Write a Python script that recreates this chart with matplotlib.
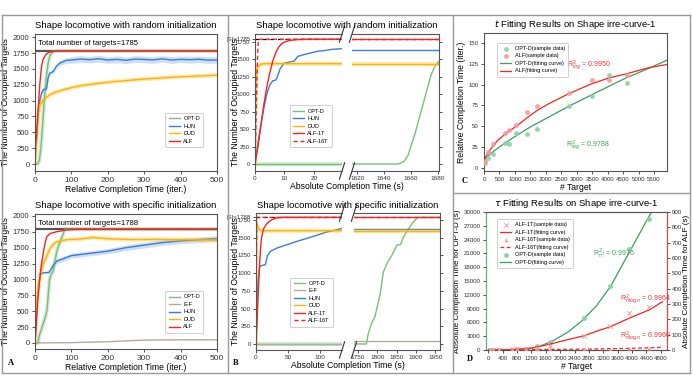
import matplotlib
matplotlib.use("Agg")
import matplotlib.pyplot as plt
from matplotlib.lines import Line2D

plt.rcParams.update({"font.family": ["Liberation Sans", "DejaVu Sans"], "font.size": 5.5,
                     "axes.edgecolor": "#444444", "axes.linewidth": 0.8,
                     "xtick.major.size": 2.5, "ytick.major.size": 2.5,
                     "xtick.major.width": 0.6, "ytick.major.width": 0.6,
                     "xtick.labelsize": 5, "ytick.labelsize": 5})

# ---------------- colours ----------------
C_OPT = "#7cbd7c"
C_HUN = "#3b7dd8"
C_DUD = "#ffb400"
C_ALF = "#ff2020"
C_EF = "#b5aa9c"

# ---------------- A (top): random initialization, relative time ----------------
a1_optd_x = [0, 8, 12, 15, 18, 22.5, 27, 31.5, 36, 40.5, 45, 55, 70, 500]
a1_optd_y = [0, 5, 60, 200, 380, 750, 1117, 1380, 1590, 1700, 1750, 1780, 1785, 1785]
a1_alf_x = [0, 3, 9, 13.5, 18, 22.5, 31.5, 40.5, 50, 65, 500]
a1_alf_y = [250, 380, 906, 1275, 1539, 1655, 1739, 1765, 1778, 1785, 1785]
a1_hun_x = [0, 4.5, 9, 13.5, 18, 22.5, 31.5, 36, 40.5, 49.5, 58.5, 67.5, 85.5, 100, 125, 150, 175, 200,
            225, 250, 275, 300, 325, 350, 375, 400, 425, 450, 475, 500]
a1_hun_y = [0, 380, 800, 1012, 1117, 1170, 1185, 1354, 1433, 1455, 1540, 1590, 1633, 1640, 1655, 1645,
            1660, 1640, 1650, 1635, 1655, 1648, 1642, 1658, 1640, 1650, 1645, 1652, 1638, 1640]
a1_hun_sd = [0, 10, 15, 20, 20, 20, 20, 25, 30, 30, 35, 40, 45, 50, 55, 50, 55, 50, 55, 50, 55, 50,
             55, 50, 55, 50, 55, 50, 55, 50]
a1_dud_x = [0, 5, 9, 13.5, 22.5, 40.5, 60, 85, 100, 130, 200, 300, 400, 500]
a1_dud_y = [0, 500, 800, 933, 1012, 1090, 1140, 1180, 1205, 1240, 1290, 1340, 1375, 1400]
a1_total = 1785

# ---------------- A (bottom): specific initialization, relative time ----------------
a2_optd_x = [0, 8, 12, 20, 28, 33, 37, 40, 45, 50, 55, 60, 68, 75, 82, 500]
a2_optd_y = [0, 0, 120, 260, 400, 520, 800, 1000, 1090, 1130, 1300, 1450, 1580, 1680, 1788, 1788]
a2_ef_x = [0, 100, 200, 300, 400, 500]
a2_ef_y = [0, 5, 20, 45, 50, 50]
a2_hun_x = [0, 5, 10, 15, 22, 38, 45, 52, 60, 75, 100, 150, 200, 250, 300, 350, 400, 450, 500]
a2_hun_y = [0, 550, 900, 1080, 1105, 1110, 1170, 1240, 1290, 1320, 1375, 1410, 1445, 1500, 1540, 1580,
            1606, 1625, 1643]
a2_hun_sd = [0, 10, 15, 15, 15, 15, 25, 35, 40, 40, 40, 40, 40, 45, 45, 45, 45, 45, 45]
a2_dud_x = [0, 4, 10, 15, 23, 32, 41, 50, 59, 87, 120, 160, 200, 270, 350, 420, 500]
a2_dud_y = [0, 600, 950, 1100, 1250, 1360, 1485, 1550, 1590, 1627, 1635, 1660, 1640, 1628, 1630, 1625, 1617]
a2_alf_x = [0, 3, 8, 14, 18, 23, 28, 32, 41, 59, 87, 114, 500]
a2_alf_y = [0, 250, 700, 1066, 1250, 1433, 1580, 1670, 1722, 1750, 1780, 1788, 1788]
a2_total = 1788

# ---------------- B (top): random initialization, absolute time ----------------
b1_optd_x = [0, 1650, 1652, 1655, 1658, 1660, 1663, 1666, 1669, 1672, 1675, 1678, 1681]
b1_optd_y = [0, 0, 10, 40, 130, 253, 430, 640, 850, 1060, 1270, 1400, 1470]
b1_hun_x = [0, 1, 2, 3, 4, 5, 6, 7, 7.5, 8.5, 9.8, 12, 13.3, 14.5, 17, 19, 21.4, 24, 26, 29.5]
b1_hun_y = [0, 300, 560, 800, 1000, 1130, 1190, 1200, 1240, 1360, 1440, 1462, 1472, 1540, 1570, 1590,
            1615, 1625, 1640, 1650]
b1_hun_end = 1630
b1_dud_x = [0, 0.1, 0.3, 0.6, 1, 1.7, 3, 29.5]
b1_dud_y = [0, 600, 1100, 1353, 1390, 1424, 1435, 1435]
b1_alf1_x = [0, 1, 2, 3, 4, 5, 6, 7, 8, 9, 10, 12, 14, 17, 29.5]
b1_alf1_y = [0, 250, 550, 850, 1100, 1300, 1470, 1590, 1670, 1720, 1745, 1770, 1778, 1785, 1785]
b1_alf16_x = [0, 0.3, 0.7, 1.0, 1.3, 29.5]
b1_alf16_y = [0, 530, 1300, 1700, 1785, 1785]

# ---------------- B (bottom): specific initialization, absolute time ----------------
b2_optd_x = [0, 1772, 1776, 1785, 1794, 1807, 1816, 1825, 1838, 1851, 1860, 1868, 1881, 1890, 1899,
             1905, 1962]
b2_optd_y = [0, 0, 127, 291, 385, 690, 1020, 1137, 1255, 1396, 1405, 1513, 1631, 1701, 1758, 1788, 1788]
b2_ef_left = 0
b2_ef_right = 47
b2_hun_x = [0, 1.6, 3.1, 5.7, 9.3, 14.5, 18, 22.3, 32.6, 63.7, 89.6, 110, 134]
b2_hun_y = [0, 550, 880, 1090, 1110, 1120, 1250, 1307, 1355, 1449, 1520, 1581, 1630]
b2_hun_end = 1625
b2_dud_x = [0, 0.3, 0.6, 1, 2, 3, 5, 8, 134]
b2_dud_y = [0, 1000, 1550, 1650, 1680, 1660, 1620, 1600, 1600]
b2_alf1_x = [0, 2, 4, 6, 8, 10, 12, 17, 22, 27, 32, 40, 134]
b2_alf1_y = [0, 400, 832, 1200, 1450, 1560, 1631, 1700, 1740, 1765, 1780, 1788, 1788]
b2_alf16_x = [0, 0.3, 0.8, 1.2, 1.6, 134]
b2_alf16_y = [0, 600, 1350, 1700, 1788, 1788]

# ---------------- C: t fitting ----------------
c_targets = [43, 129, 291, 668, 808, 1046, 1390, 1725, 2738, 3493, 4042, 4625]
c_optd = [6, 12, 17, 30, 29, 42, 41, 47, 74, 86, 111, 102]
c_alf = [8, 19, 29, 42, 45, 51, 67, 74, 90, 105, 106, 111]
c_fit_optd_x = [0, 100, 250, 500, 1000, 1500, 2000, 2750, 3500, 4100, 4600, 5300, 5900]
c_fit_optd_y = [8, 13, 18, 25, 37.5, 49, 59, 74, 88, 99, 108, 119, 129]
c_fit_alf_x = [0, 130, 290, 450, 670, 810, 1050, 1390, 1725, 2100, 2740, 3490, 4040, 4620, 5300, 5900]
c_fit_alf_y = [9, 18, 26, 33, 40, 44, 50, 60, 69, 77, 89, 101, 108, 113, 120, 124]

# ---------------- D: tau fitting ----------------
d_targets = [43, 129, 291, 668, 808, 1046, 1366, 1708, 2658, 3388, 3923, 4477]
d_optd = [5, 10, 30, 100, 150, 290, 800, 1670, 6960, 13900, 21970, 28560]
d_alf1 = [0.5, 1, 2, 4, 5, 8, 15, 25, 89, 159, 241, 278]
d_alf16 = [0.5, 0.8, 1, 1.5, 2, 2.5, 3, 4, 6, 8, 10, 14]
d_fit_optd_x = [1000, 1400, 1800, 2200, 2600, 3000, 3400, 3800, 4200, 4536]
d_fit_optd_y = [100, 700, 2000, 3800, 6300, 9500, 13800, 19500, 25200, 30000]
d_fit_alf1_x = [0, 400, 800, 1204, 1667, 2130, 2667, 3056, 3398, 3935, 4491, 4843]
d_fit_alf1_y = [0, 1, 4, 13, 35, 63, 93, 126, 152, 209, 263, 315]
d_fit_alf16_x = [0, 1000, 2000, 3000, 4000, 4850]
d_fit_alf16_y = [0, 2, 4, 7, 11, 17]

# ******************************************************************************

W, H = 693, 389
fg = plt.figure(figsize=(W / 100, H / 100), dpi=100)


def rect(x0, y0, x1, y1):
    return [x0 / W, 1 - y1 / H, (x1 - x0) / W, (y1 - y0) / H]


def fline(x0, y0, x1, y1):
    fg.add_artist(Line2D([x0 / W, x1 / W], [1 - y0 / H, 1 - y1 / H], color="#9a9a9a", lw=1.0))


def ftext(x, y, s, **kw):
    fg.text(x / W, 1 - y / H, s, **kw)


def style(ax):
    for s in ax.spines.values():
        s.set_color("#555555")
    ax.tick_params(colors="#333333", pad=1.5)


LEG = dict(fontsize=4.0, frameon=True, fancybox=True, handlelength=2.0, handletextpad=0.6,
           labelspacing=0.45, borderpad=0.6, borderaxespad=0)


def legend(ax, loc, **kw):
    lg = ax.legend(loc=loc, **LEG, **kw)
    lg.get_frame().set_edgecolor("#bbbbbb")
    lg.get_frame().set_linewidth(0.6)
    return lg


# Panel frames ...
fline(2, 15, 690, 15)
fline(2, 373, 690, 373)
fline(2, 15, 2, 373)
fline(228, 15, 228, 373)
fline(453, 15, 453, 373)
fline(690, 15, 690, 373)
fline(453, 193, 690, 193)

# ---------------- A panels ----------------
for i, (rc, title, total) in enumerate([(rect(35, 34, 217, 171), "Shape locomotive with random initialization", a1_total),
                                         (rect(35, 214, 217, 349), "Shape locomotive with specific initialization", a2_total)]):
    ax = fg.add_axes(rc)
    style(ax)
    ax.axhline(total, color="#555555", lw=1.6, zorder=1)
    if i == 0:
        ax.plot(a1_optd_x, a1_optd_y, color=C_OPT, lw=3, alpha=0.3)
        ax.plot(a1_optd_x, a1_optd_y, color=C_OPT, lw=1, label="OPT-D")
        lo = [y - s for y, s in zip(a1_hun_y, a1_hun_sd)]
        hi = [y + s for y, s in zip(a1_hun_y, a1_hun_sd)]
        ax.fill_between(a1_hun_x, lo, hi, color=C_HUN, alpha=0.25, lw=0)
        ax.plot(a1_hun_x, a1_hun_y, color=C_HUN, lw=1, label="HUN")
        ax.plot(a1_dud_x, a1_dud_y, color=C_DUD, lw=3, alpha=0.3)
        ax.plot(a1_dud_x, a1_dud_y, color=C_DUD, lw=1, label="DUD")
        ax.plot(a1_alf_x, a1_alf_y, color=C_ALF, lw=1, label="ALF")
        ax.set_ylim(-110, 2050)
        legend(ax, "lower right", bbox_to_anchor=(0.925, 0.175))
    else:
        ax.plot(a2_optd_x, a2_optd_y, color=C_OPT, lw=3, alpha=0.3)
        ax.plot(a2_optd_x, a2_optd_y, color=C_OPT, lw=1, label="OPT-D")
        ax.plot(a2_ef_x, a2_ef_y, color=C_EF, lw=1, label="E-F")
        lo = [y - s for y, s in zip(a2_hun_y, a2_hun_sd)]
        hi = [y + s for y, s in zip(a2_hun_y, a2_hun_sd)]
        ax.fill_between(a2_hun_x, lo, hi, color=C_HUN, alpha=0.25, lw=0)
        ax.plot(a2_hun_x, a2_hun_y, color=C_HUN, lw=1, label="HUN")
        ax.plot(a2_dud_x, a2_dud_y, color=C_DUD, lw=3, alpha=0.3)
        ax.plot(a2_dud_x, a2_dud_y, color=C_DUD, lw=1, label="DUD")
        ax.plot(a2_alf_x, a2_alf_y, color=C_ALF, lw=1, label="ALF")
        ax.set_ylim(-95, 2030)
        legend(ax, "lower right", bbox_to_anchor=(0.925, 0.12))
    ax.text(0.015, 0.93, "Total number of targets={:d}".format(total), transform=ax.transAxes,
            fontsize=5.5, va="center")
    ax.set_xlim(0, 500)
    ax.set_yticks(range(0, 2001, 250))
    ax.set_xticks(range(0, 501, 100))
    ax.tick_params(axis="x", labelsize=6)
    ax.tick_params(axis="y", labelsize=5.5)
    ax.set_title(title, fontsize=6.8, pad=4)
    ax.set_ylabel("The Number of Occupied Targets", fontsize=6.2, labelpad=2)
    ax.set_xlabel("Relative Completion Time (iter.)", fontsize=6.2, labelpad=1)

# ---------------- B panels (broken x axis) ----------------
b_specs = [
    (rect(255, 34, 342, 171), rect(352, 34, 439, 171), (0, 29.5), (1616, 1681), (-100, 1860), 1785,
     [0, 10, 20], [1620, 1640, 1660, 1680], "Shape locomotive with random initialization", 26, 186, 102,
     (0.885, 0.175)),
    (rect(256, 213, 342, 350), rect(354, 213, 440, 350), (0, 134), (1740, 1962), (-85, 1850), 1788,
     [0, 50, 100], [1750, 1800, 1850, 1900, 1950], "Shape locomotive with specific initialization", 205, 366,
     281, (0.895, 0.17)),
]
for j, (rl, rr, xl, xr, yl, total, xtl, xtr, title, ty, xy, ly, lpos) in enumerate(b_specs):
    axl = fg.add_axes(rl)
    axr = fg.add_axes(rr)
    for ax in (axl, axr):
        style(ax)
        ax.set_ylim(*yl)
        ax.axhline(total, color="black", lw=0.9, ls=(0, (3, 3)), zorder=1)
        ax.tick_params(axis="x", labelsize=4.6, pad=1)
    if j == 0:
        axl.plot([0, 29.5], [0, 0], color=C_OPT, lw=3, alpha=0.3)
        axl.plot([0, 29.5], [0, 0], color=C_OPT, lw=1, label="OPT-D")
        axl.plot(b1_hun_x, b1_hun_y, color=C_HUN, lw=1, label="HUN")
        axl.plot(b1_dud_x, b1_dud_y, color=C_DUD, lw=3, alpha=0.3)
        axl.plot(b1_dud_x, b1_dud_y, color=C_DUD, lw=1, label="DUD")
        axl.plot(b1_alf1_x, b1_alf1_y, color=C_ALF, lw=1, label="ALF-1T")
        axl.plot(b1_alf16_x, b1_alf16_y, color=C_ALF, lw=1, ls=(0, (3, 2)), label="ALF-16T")
        axr.plot(b1_optd_x, b1_optd_y, color=C_OPT, lw=1)
        axr.plot(xr, [b1_hun_end] * 2, color=C_HUN, lw=1)
        axr.plot(xr, [b1_dud_y[-1]] * 2, color=C_DUD, lw=3, alpha=0.3)
        axr.plot(xr, [b1_dud_y[-1]] * 2, color=C_DUD, lw=1)
        axr.plot(xr, [b1_alf1_y[-1]] * 2, color=C_ALF, lw=1)
    else:
        axl.plot([0, 134], [0, 0], color=C_OPT, lw=3, alpha=0.3)
        axl.plot([0, 134], [0, 0], color=C_OPT, lw=1, label="OPT-D")
        axl.plot([0, 134], [b2_ef_left] * 2, color=C_EF, lw=1, label="E-F")
        axl.plot(b2_hun_x, b2_hun_y, color=C_HUN, lw=1, label="HUN")
        axl.plot(b2_dud_x, b2_dud_y, color=C_DUD, lw=3, alpha=0.3)
        axl.plot(b2_dud_x, b2_dud_y, color=C_DUD, lw=1, label="DUD")
        axl.plot(b2_alf1_x, b2_alf1_y, color=C_ALF, lw=1, label="ALF-1T")
        axl.plot(b2_alf16_x, b2_alf16_y, color=C_ALF, lw=1, ls=(0, (3, 2)), label="ALF-16T")
        axr.plot(b2_optd_x, b2_optd_y, color=C_OPT, lw=1)
        axr.plot(xr, [b2_ef_right] * 2, color=C_EF, lw=1)
        axr.plot(xr, [b2_hun_end] * 2, color=C_HUN, lw=1)
        axr.plot(xr, [b2_dud_y[-1]] * 2, color=C_DUD, lw=3, alpha=0.3)
        axr.plot(xr, [b2_dud_y[-1]] * 2, color=C_DUD, lw=1)
        axr.plot(xr, [b2_alf1_y[-1]] * 2, color=C_ALF, lw=1)
    legend(axl, "lower right", bbox_to_anchor=lpos)
    axl.set_xlim(*xl)
    axr.set_xlim(*xr)
    axl.set_xticks(xtl)
    axr.set_xticks(xtr)
    axl.spines["right"].set_visible(False)
    axr.spines["left"].set_visible(False)
    axr.yaxis.tick_right()
    axr.tick_params(axis="y", labelright=False)
    yt = list(range(0, 1751, 250)) + [total]
    axl.set_yticks(yt)
    axl.set_yticklabels([str(v) for v in yt[:-1]] + ["|S|={:d}".format(total)])
    axl.tick_params(axis="y", labelsize=4.3, pad=1)
    ftext(235, ly, "The Number of Occupied Targets", fontsize=6.2, rotation=90, ha="center", va="center")
    # Break marks ...
    d = 0.03
    kw = dict(color="#333333", lw=0.8, clip_on=False)
    for yy in (0, 1):
        axl.plot([1 - d, 1 + d], [yy - 2 * d, yy + 2 * d], transform=axl.transAxes, **kw)
        axr.plot([-d, d], [yy - 2 * d, yy + 2 * d], transform=axr.transAxes, **kw)
    cx = (rl[0] + rr[0] + rr[2]) / 2
    fg.text(cx, 1 - ty / H, title, ha="center", va="center", fontsize=6.8)
    fg.text(cx, 1 - xy / H, "Absolute Completion Time (s)", ha="center", va="center", fontsize=6.2)

# ---------------- C panel ----------------
ax = fg.add_axes(rect(484, 33, 667, 171))
style(ax)
ax.scatter(c_targets, c_optd, s=12, color="#8fcfa6", alpha=0.9, lw=0, label="OPT-D(sample data)", zorder=3)
ax.scatter(c_targets, c_alf, s=12, color="#f59a9a", alpha=0.9, lw=0, label="ALF(sample data)", zorder=3)
ax.plot(c_fit_optd_x, c_fit_optd_y, color="#3a9e5f", lw=0.9, label="OPT-D(fitting curve)")
ax.plot(c_fit_alf_x, c_fit_alf_y, color="#ff2020", lw=0.9, label="ALF(fitting curve)")
ax.text(2700, 123, "R$^2_{log}$ = 0.9950", color="#ff3030", fontsize=5, va="center")
ax.text(2660, 26, "R$^2_{log}$ = 0.9788", color="#3a9e5f", fontsize=5, va="center")
ax.set_xlim(0, 5920)
ax.set_ylim(-4, 162)
ax.set_xticks(range(0, 5501, 500))
ax.set_yticks(range(0, 151, 25))
ax.tick_params(axis="x", labelsize=4.4)
ax.tick_params(axis="y", labelsize=4.4)
ax.set_title("$t$ Fitting Results on Shape irre-curve-1", fontsize=6.8, pad=4)
ax.set_xlabel("# Target", fontsize=6.2, labelpad=1)
ax.set_ylabel("Relative Completion Time (iter.)", fontsize=6.2, labelpad=2)
legend(ax, "upper left", bbox_to_anchor=(0.07, 0.93))

# ---------------- D panel ----------------
ax = fg.add_axes(rect(486, 212, 667, 350))
style(ax)
ax2 = ax.twinx()
style(ax2)
ax.spines["left"].set_color("#5bb37a")
ax.spines["right"].set_visible(False)
ax2.spines["left"].set_color("#5bb37a")
ax2.spines["right"].set_color("#ff3030")
h1 = ax2.scatter(d_targets, d_alf1, s=10, marker="x", color="#f59a9a", lw=0.7, label="ALF-1T(sample data)", zorder=3)
h2, = ax2.plot(d_fit_alf1_x, d_fit_alf1_y, color="#ff2020", lw=0.9, label="ALF-1T(fitting curve)")
h3 = ax2.scatter(d_targets, d_alf16, s=8, marker="^", color="#f59a9a", lw=0, label="ALF-16T(sample data)", zorder=3)
h4, = ax2.plot(d_fit_alf16_x, d_fit_alf16_y, color="#ff2020", lw=0.9, ls=(0, (3, 2)), label="ALF-16T(fitting curve)")
h5 = ax.scatter(d_targets, d_optd, s=12, color="#8fcfa6", lw=0, label="OPT-D(sample data)", zorder=3)
h6, = ax.plot(d_fit_optd_x, d_fit_optd_y, color="#3a9e5f", lw=0.9, label="OPT-D(fitting curve)")
ax.text(2900, 21000, "R$^2_{n^3}$ = 0.9976", color="#3a9e5f", fontsize=5, va="center")
ax2.text(3650, 330, "R$^2_{n\\log n}$ = 0.9964", color="#ff3030", fontsize=5, va="center")
ax2.text(3650, 90, "R$^2_{n\\log n}$ = 0.9960", color="#ff3030", fontsize=5, va="center")
ax.set_xlim(-60, 4970)
ax.set_ylim(0, 30000)
ax2.set_ylim(0, 900)
ax.set_xticks(range(0, 4801, 400))
ax.set_yticks(range(0, 30001, 3000))
ax2.set_yticks(range(0, 901, 100))
ax.tick_params(axis="x", labelsize=4.4)
ax.tick_params(axis="y", labelsize=4.4)
ax2.tick_params(axis="y", labelsize=4.4, pad=1)
ax.set_title("$\\tau$ Fitting Results on Shape irre-curve-1", fontsize=6.8, pad=4)
ax.set_xlabel("# Target", fontsize=6.2, labelpad=1)
ax.set_ylabel("Absolute Completion Time for OPT-D (s)", fontsize=5.8, labelpad=2)
ax2.set_ylabel("Absolute Completion Time for ALF (s)", fontsize=5.8, labelpad=1)
hs = [h1, h2, h3, h4, h5, h6]
lg = ax2.legend(hs, [h.get_label() for h in hs], loc="upper left", bbox_to_anchor=(0.06, 0.95), **LEG)
lg.get_frame().set_edgecolor("#bbbbbb")
lg.get_frame().set_linewidth(0.6)

# Panel letters ...
for x, y, s in [(8, 363, "A"), (233, 363, "B"), (462, 181, "C"), (467, 359, "D")]:
    ftext(x, y, s, fontsize=6, fontweight="bold", family="Liberation Serif", va="center")

fg.savefig("out.png", dpi=100)
plt.close(fg)
